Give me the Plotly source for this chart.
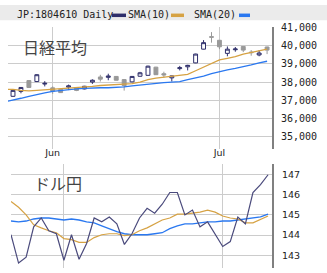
import plotly.graph_objects as go

W, H = 327, 273

# ---------------- data ----------------
nk_dates = ["2025-05-26", "2025-05-27", "2025-05-28", "2025-05-29", "2025-05-30",
            "2025-06-02", "2025-06-03", "2025-06-04", "2025-06-05", "2025-06-06",
            "2025-06-09", "2025-06-10", "2025-06-11", "2025-06-12", "2025-06-13",
            "2025-06-16", "2025-06-17", "2025-06-18", "2025-06-19", "2025-06-20",
            "2025-06-23", "2025-06-24", "2025-06-25", "2025-06-26", "2025-06-27",
            "2025-06-30", "2025-07-01", "2025-07-02", "2025-07-03", "2025-07-04",
            "2025-07-07", "2025-07-08", "2025-07-09"]
nk_open = [37216, 37487, 38081, 38027, 37890, 37680, 37595, 37720, 37690, 37620,
           38000, 38280, 38260, 38310, 38135, 38010, 38320, 38370, 38820, 38460,
           38230, 38740, 38840, 39054, 39811, 40500, 40300, 39580, 39780, 39960,
           39650, 39490, 39930]
nk_high = [37560, 37720, 38100, 38430, 38050, 37760, 37620, 37860, 37720, 37790,
           38150, 38400, 38460, 38330, 38150, 38330, 38560, 38900, 38840, 38570,
           38350, 38890, 38950, 39560, 40310, 40750, 40310, 39960, 39930, 39970,
           39760, 39760, 39950]
nk_low = [37190, 37380, 37680, 38000, 37760, 37350, 37400, 37560, 37500, 37600,
          37900, 38030, 38100, 38090, 37530, 37990, 38300, 38350, 38400, 38240,
          38030, 38640, 38640, 39040, 39800, 40170, 39810, 39420, 39670, 39650,
          39450, 39420, 39540]
nk_close = [37541, 37703, 37703, 38405, 37930, 37500, 37420, 37790, 37540, 37770,
            38100, 38160, 38330, 38100, 37800, 38310, 38510, 38875, 38405, 38390,
            38340, 38790, 38920, 39541, 40170, 40470, 39940, 39811, 39820, 39760,
            39620, 39600, 39760]
# SMA lines include the preceding session (partly visible at the left edge)
sma_dates = ["2025-05-23"] + nk_dates
nk_sma10 = [37600, 37595, 37541, 37514, 37541, 37568, 37595, 37622, 37649, 37676,
            37730, 37757, 37811, 37838, 37865, 37865, 37919, 38000, 38135, 38216,
            38270, 38313, 38352, 38422, 38622, 38822, 39038, 39216, 39308, 39395,
            39541, 39632, 39719, 39811]
nk_sma20 = [36920, 37000, 37108, 37216, 37325, 37406, 37487, 37541, 37595, 37622,
            37649, 37676, 37687, 37687, 37703, 37730, 37784, 37838, 37876, 37919,
            37973, 38000, 38027, 38135, 38216, 38325, 38460, 38584, 38676, 38757,
            38838, 38946, 39054, 39146]

fx_dates = ["2025-05-22", "2025-05-23", "2025-05-26", "2025-05-27", "2025-05-28",
            "2025-05-29", "2025-05-30", "2025-06-02", "2025-06-03", "2025-06-04",
            "2025-06-05", "2025-06-06", "2025-06-09", "2025-06-10", "2025-06-11",
            "2025-06-12", "2025-06-13", "2025-06-16", "2025-06-17", "2025-06-18",
            "2025-06-19", "2025-06-20", "2025-06-23", "2025-06-24", "2025-06-25",
            "2025-06-26", "2025-06-27", "2025-06-30", "2025-07-01", "2025-07-02",
            "2025-07-03", "2025-07-04", "2025-07-07", "2025-07-08", "2025-07-09"]
fx_close = [144.02, 142.62, 142.91, 144.41, 144.85, 144.22, 144.07, 142.76, 144.02, 142.81,
            143.59, 144.85, 144.66, 144.90, 144.56, 143.54, 144.07, 144.85, 145.33, 145.09,
            145.53, 146.11, 146.11, 145.00, 145.24, 144.41, 144.66, 144.07, 143.44, 143.68,
            144.90, 144.56, 146.11, 146.50, 146.99]
fx_sma10 = [145.67, 145.38, 145.00, 144.51, 144.36, 144.22, 144.12, 143.83, 143.78, 143.64,
            143.64, 143.88, 144.02, 144.07, 144.07, 143.98, 144.02, 144.22, 144.36, 144.56,
            144.75, 144.85, 145.04, 145.04, 145.09, 145.14, 145.24, 145.14, 144.95, 144.85,
            144.80, 144.61, 144.61, 144.80, 144.95]
fx_sma20 = [144.70, 144.66, 144.70, 144.80, 144.85, 144.85, 144.80, 144.75, 144.80, 144.75,
            144.66, 144.61, 144.46, 144.32, 144.17, 144.07, 144.02, 144.02, 144.02, 144.07,
            144.12, 144.32, 144.46, 144.56, 144.56, 144.61, 144.66, 144.66, 144.70, 144.70,
            144.75, 144.80, 144.85, 144.90, 145.04]

month_ticks = ["2025-06-02", "2025-07-01"]
month_labels = ["Jun", "Jul"]
nk_ticks = [35000, 36000, 37000, 38000, 39000, 40000, 41000]
fx_ticks = [143, 144, 145, 146, 147]

# ---------------- style ----------------
NAVY = "#2e2e6a"
FXNAVY = "#4a4a7c"
GRAY = "#999999"
ORANGE = "#d6a243"
BLUE = "#2a78f0"
GRID = "#cccccc"
MONO = "DejaVu Sans Mono"

fig = go.Figure()

fig.add_trace(go.Candlestick(
    x=nk_dates, open=nk_open, high=nk_high, low=nk_low, close=nk_close,
    increasing=dict(line=dict(color=NAVY, width=1), fillcolor="white"),
    decreasing=dict(line=dict(color=GRAY, width=1), fillcolor=GRAY),
    xaxis="x", yaxis="y", showlegend=False, hoverinfo="skip"))
fig.add_trace(go.Scatter(x=sma_dates, y=nk_sma20, mode="lines",
                         line=dict(color=BLUE, width=1.3), xaxis="x", yaxis="y", showlegend=False))
fig.add_trace(go.Scatter(x=sma_dates, y=nk_sma10, mode="lines",
                         line=dict(color=ORANGE, width=1.3), xaxis="x", yaxis="y", showlegend=False))

fig.add_trace(go.Scatter(x=fx_dates, y=fx_sma20, mode="lines",
                         line=dict(color=BLUE, width=1.3), xaxis="x2", yaxis="y2", showlegend=False))
fig.add_trace(go.Scatter(x=fx_dates, y=fx_sma10, mode="lines",
                         line=dict(color=ORANGE, width=1.2), xaxis="x2", yaxis="y2", showlegend=False))
fig.add_trace(go.Scatter(x=fx_dates, y=fx_close, mode="lines",
                         line=dict(color=FXNAVY, width=1.2), xaxis="x2", yaxis="y2", showlegend=False))

def px_x(p):
    return p / W

def px_y(p):
    return 1 - p / H

cat_top = sma_dates

fig.update_layout(
    width=W, height=H, autosize=False,
    margin=dict(l=0, r=0, t=0, b=0, pad=0),
    paper_bgcolor="white", plot_bgcolor="white",
    xaxis=dict(domain=[px_x(8), px_x(272)], type="category",
               categoryorder="array", categoryarray=cat_top,
               range=[0.37, 33.62], rangeslider=dict(visible=False),
               tickmode="array", tickvals=month_ticks, ticktext=month_labels,
               showgrid=True, gridcolor=GRID, gridwidth=1,
               ticks="", showline=False, zeroline=False,
               ticklabelstandoff=-4,
               tickfont=dict(family="DejaVu Sans", size=9.5, color="#222"),
               anchor="y"),
    yaxis=dict(domain=[px_y(147), px_y(22)], range=[34297, 41054],
               side="right", tickmode="array", tickvals=nk_ticks, tickformat=",d",
               showgrid=True, gridcolor=GRID, gridwidth=1, zeroline=False,
               showline=True, linecolor="#808080", linewidth=2,
               ticks="", ticklabelstandoff=5,
               tickfont=dict(family=MONO, size=10, color="#222"),
               anchor="x"),
    xaxis2=dict(domain=[px_x(11), px_x(272)], type="category",
                categoryorder="array", categoryarray=fx_dates,
                range=[0, 34.52],
                tickmode="array", tickvals=month_ticks, showticklabels=False,
                showgrid=True, gridcolor=GRID, gridwidth=1,
                ticks="", showline=False, zeroline=False, anchor="y2"),
    yaxis2=dict(domain=[px_y(268), px_y(162)], range=[142.37, 147.52],
                side="right", tickmode="array", tickvals=fx_ticks,
                showgrid=True, gridcolor=GRID, gridwidth=1, zeroline=False,
                showline=True, linecolor="#808080", linewidth=2,
                ticks="", ticklabelstandoff=6,
                tickfont=dict(family="DejaVu Sans", size=9.5, color="#222"),
                anchor="x2"),
    showlegend=False,
)

# header band
fig.add_shape(type="rect", xref="paper", yref="paper", x0=0, x1=1,
              y0=px_y(15.5), y1=1, fillcolor="#ebebeb", line=dict(width=0), layer="below")

hdr_y = px_y(9.5)
for txt, x0 in [("JP:1804610 Daily", 15), ("SMA(10)", 125.5), ("SMA(20)", 192)]:
    fig.add_annotation(x=px_x(x0), y=hdr_y, xref="paper", yref="paper", text=txt,
                       showarrow=False, xanchor="left", yanchor="middle",
                       font=dict(family=MONO, size=10, color="#222"))
for col, a, b in [(NAVY, 112, 126), (ORANGE, 171, 184), (BLUE, 239, 250)]:
    fig.add_shape(type="line", xref="paper", yref="paper", x0=px_x(a), x1=px_x(b),
                  y0=px_y(10.5), y1=px_y(10.5), line=dict(color=col, width=3.5))

# panel titles
fig.add_annotation(x=px_x(21), y=px_y(42.5), xref="paper", yref="paper", text="日経平均",
                   showarrow=False, xanchor="left", yanchor="middle",
                   font=dict(family="Noto Sans CJK JP", size=16, color="#444"))
fig.add_annotation(x=px_x(32), y=px_y(181.5), xref="paper", yref="paper", text="ドル円",
                   showarrow=False, xanchor="left", yanchor="middle",
                   font=dict(family="Noto Sans CJK JP", size=16, color="#444"))

fig.write_html("out.html")
